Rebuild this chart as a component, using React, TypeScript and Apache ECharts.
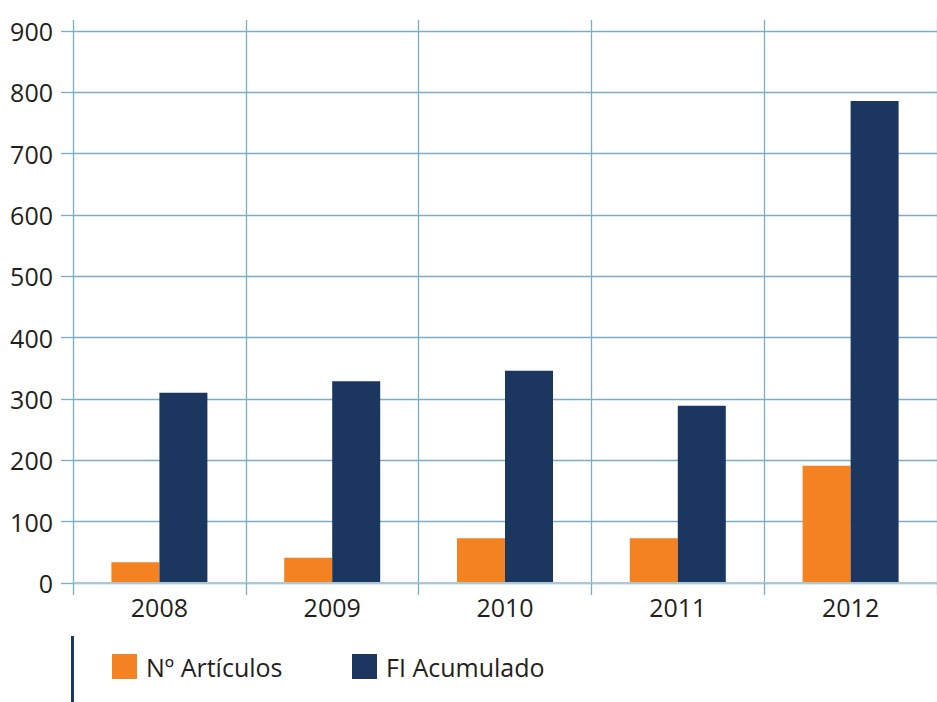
import React, { useEffect, useRef } from "react";
import * as echarts from "echarts";

const years = ["2008", "2009", "2010", "2011", "2012"];
const articulos = [34, 41, 73, 73, 191];
const fiAcumulado = [310, 329, 346, 289, 786];
const seriesNames = ["Nº Artículos", "FI Acumulado"];

const ORANGE = "#f58220";
const NAVY = "#1b365f";
const GRID = "#7aaec4";
const TEXT = "#231f20";
const FONT = "'Open Sans', 'Noto Sans', sans-serif";

export default function App() {
  const ref = useRef<HTMLDivElement>(null);
  useEffect(() => {
    if (!ref.current) return;
    const chart = echarts.init(ref.current, undefined, { renderer: "svg" });
    const legendText = { fontSize: 25, color: TEXT, fontFamily: FONT, padding: [0, 0, 0, 4] };
    chart.setOption({
      animation: false,
      backgroundColor: "#ffffff",
      textStyle: { fontFamily: FONT },
      grid: { left: 73, right: -4, top: 31, bottom: 119 },
      legend: [
        {
          data: [seriesNames[0]],
          left: 107,
          top: 649,
          itemWidth: 25,
          itemHeight: 25,
          icon: "rect",
          textStyle: legendText,
        },
        {
          data: [seriesNames[1]],
          left: 347,
          top: 649,
          itemWidth: 25,
          itemHeight: 25,
          icon: "rect",
          textStyle: legendText,
        },
      ],
      graphic: [
        {
          type: "rect",
          shape: { x: 71, y: 636, width: 3, height: 66 },
          style: { fill: NAVY },
        },
      ],
      xAxis: [
        {
          type: "category",
          data: years,
          boundaryGap: true,
          axisLine: { show: true, lineStyle: { color: "#a9c9d6", width: 2 } },
          axisTick: { show: true, length: 12, lineStyle: { color: GRID, width: 1.3 } },
          axisLabel: { fontSize: 25, color: TEXT, margin: 11, fontFamily: FONT },
          splitLine: { show: true, lineStyle: { color: GRID, width: 1.3 } },
          z: 3,
        },
        {
          type: "category",
          data: years,
          position: "top",
          boundaryGap: true,
          axisLine: { show: false },
          axisTick: { show: true, length: 11, lineStyle: { color: GRID, width: 1.3 } },
          axisLabel: { show: false },
          splitLine: { show: false },
        },
      ],
      yAxis: {
        type: "value",
        min: 0,
        max: 900,
        interval: 100,
        axisLine: { show: false },
        axisTick: { show: true, length: 12, lineStyle: { color: GRID, width: 1.3 } },
        axisLabel: { fontSize: 25, color: TEXT, margin: 20, fontFamily: FONT, padding: [0, 0, 6, 0] },
        splitLine: { show: true, lineStyle: { color: GRID, width: 1.3 } },
      },
      series: [
        {
          name: seriesNames[0],
          type: "bar",
          data: articulos,
          barWidth: 48,
          barGap: "0%",
          itemStyle: { color: ORANGE },
        },
        {
          name: seriesNames[1],
          type: "bar",
          data: fiAcumulado,
          barWidth: 48,
          barGap: "0%",
          itemStyle: { color: NAVY },
        },
      ],
    });
    return () => chart.dispose();
  }, []);
  return (
    <div
      ref={ref}
      style={{ position: "fixed", left: 0, top: 0, width: 937, height: 702 }}
    />
  );
}
